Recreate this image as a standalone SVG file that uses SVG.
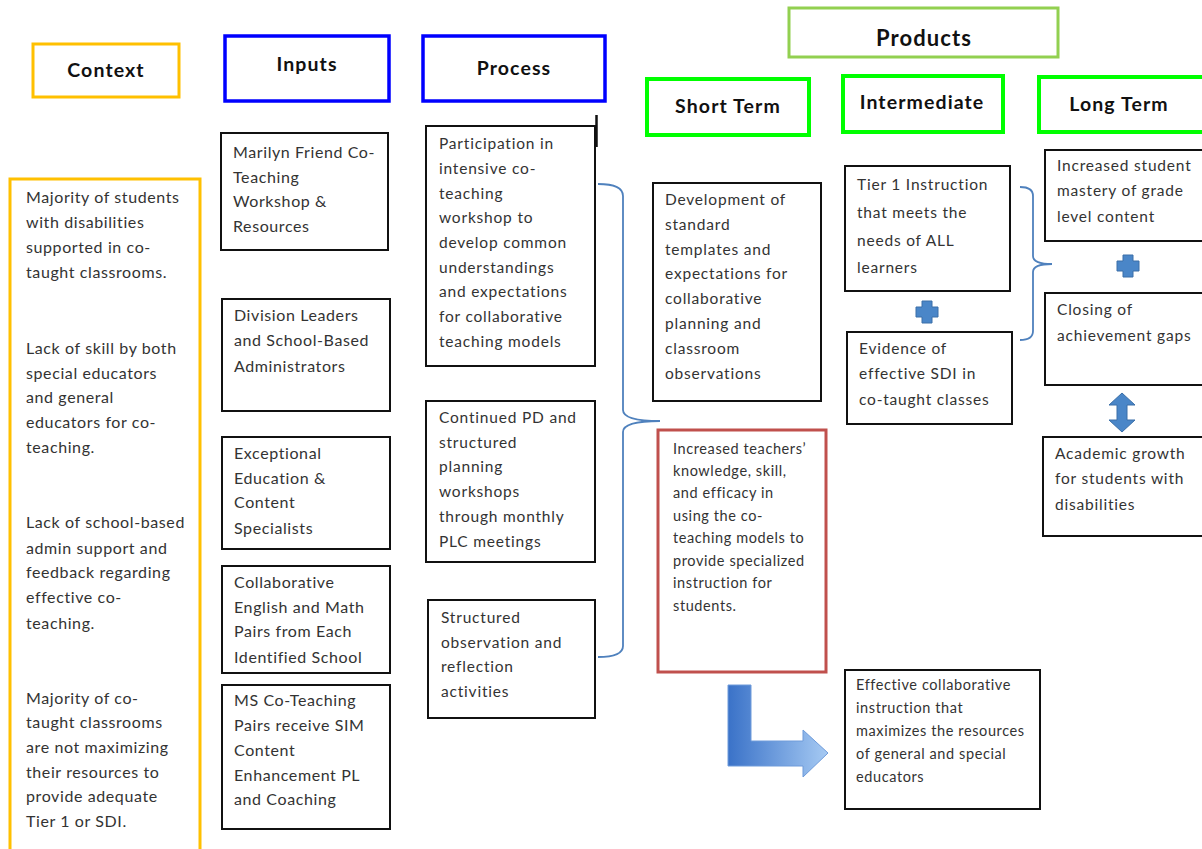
<svg xmlns="http://www.w3.org/2000/svg" width="1202" height="849" viewBox="0 0 1202 849">
<defs>
<style>
.hd{font-family:Lato,"Liberation Sans",sans-serif;font-weight:bold;font-size:19.5px;letter-spacing:1.1px;fill:#111;text-anchor:middle}
.tx{font-family:Lato,"Liberation Sans",sans-serif;font-size:16px;letter-spacing:0.6px;fill:#333}
.tp{font-family:Lato,"Liberation Sans",sans-serif;font-size:15.5px;letter-spacing:0.8px;fill:#333}
.ts{font-family:Lato,"Liberation Sans",sans-serif;font-size:14.5px;letter-spacing:0.6px;fill:#333}
.bx{fill:#fff;stroke:#111;stroke-width:2}
.org{fill:none;stroke:#FFC000;stroke-width:3}
.blu{fill:#fff;stroke:#0000FF;stroke-width:3.5}
.grn{fill:#fff;stroke:#00FF00;stroke-width:4}
.lgr{fill:#fff;stroke:#92D050;stroke-width:3}
.red{fill:#fff;stroke:#C0504D;stroke-width:3}
.brace{fill:none;stroke:#4F81BD;stroke-width:1.8}
.icon{fill:#4A86C8;stroke:#3A6FA8;stroke-width:1}
</style>
<linearGradient id="lg" x1="728" y1="0" x2="828" y2="0" gradientUnits="userSpaceOnUse">
<stop offset="0" stop-color="#3A72C8"/>
<stop offset="1" stop-color="#A6CAF3"/>
</linearGradient>
</defs>
<rect width="1202" height="849" fill="#fff"/>

<g id="context-header"><rect class="org" x="33" y="44" width="146" height="53"/><text class="hd" x="106" y="77">Context</text></g>
<g id="inputs-header"><rect class="blu" x="225" y="36" width="164" height="65"/><text class="hd" x="307" y="71">Inputs</text></g>
<g id="process-header"><rect class="blu" x="423" y="36" width="182" height="65"/><text class="hd" x="514" y="75">Process</text></g>
<g id="products-header"><rect class="lgr" x="789" y="8" width="269" height="49"/><text class="hd" x="924" y="46" style="font-size:22px">Products</text></g>
<g id="short-term-header"><rect class="grn" x="647" y="79" width="162" height="56"/><text class="hd" x="728" y="113">Short Term</text></g>
<g id="intermediate-header"><rect class="grn" x="843" y="76" width="160" height="56"/><text class="hd" x="922" y="109">Intermediate</text></g>
<g id="long-term-header"><rect class="grn" x="1039" y="77" width="170" height="55"/><text class="hd" x="1119" y="111">Long Term</text></g>

<g id="context-box"><rect class="org" x="10" y="179" width="190" height="680"/>
<text class="tx"><tspan x="26" y="203">Majority of students</tspan><tspan x="26" y="228">with disabilities</tspan><tspan x="26" y="253">supported in co-</tspan><tspan x="26" y="278">taught classrooms.</tspan>
<tspan x="26" y="354">Lack of skill by both</tspan><tspan x="26" y="379">special educators</tspan><tspan x="26" y="403">and general</tspan><tspan x="26" y="428">educators for co-</tspan><tspan x="26" y="453">teaching.</tspan>
<tspan x="26" y="528">Lack of school-based</tspan><tspan x="26" y="554">admin support and</tspan><tspan x="26" y="578">feedback regarding</tspan><tspan x="26" y="603">effective co-</tspan><tspan x="26" y="629">teaching.</tspan>
<tspan x="26" y="704">Majority of co-</tspan><tspan x="26" y="728">taught classrooms</tspan><tspan x="26" y="753">are not maximizing</tspan><tspan x="26" y="778">their resources to</tspan><tspan x="26" y="802">provide adequate</tspan><tspan x="26" y="827">Tier 1 or SDI.</tspan></text></g>

<g id="input-1"><rect class="bx" x="221" y="133" width="167" height="117"/><text class="tx"><tspan x="233" y="158">Marilyn Friend Co-</tspan><tspan x="233" y="183">Teaching</tspan><tspan x="233" y="207">Workshop &amp;</tspan><tspan x="233" y="232">Resources</tspan></text></g>
<g id="input-2"><rect class="bx" x="222" y="299" width="168" height="112"/><text class="tx"><tspan x="234" y="321">Division Leaders</tspan><tspan x="234" y="346">and School-Based</tspan><tspan x="234" y="372">Administrators</tspan></text></g>
<g id="input-3"><rect class="bx" x="222" y="437" width="168" height="112"/><text class="tx"><tspan x="234" y="459">Exceptional</tspan><tspan x="234" y="484">Education &amp;</tspan><tspan x="234" y="508">Content</tspan><tspan x="234" y="534">Specialists</tspan></text></g>
<g id="input-4"><rect class="bx" x="222" y="566" width="168" height="107"/><text class="tx"><tspan x="234" y="588">Collaborative</tspan><tspan x="234" y="613">English and Math</tspan><tspan x="234" y="637">Pairs from Each</tspan><tspan x="234" y="663">Identified School</tspan></text></g>
<g id="input-5"><rect class="bx" x="222" y="685" width="168" height="144"/><text class="tx"><tspan x="234" y="706">MS Co-Teaching</tspan><tspan x="234" y="731">Pairs receive SIM</tspan><tspan x="234" y="756">Content</tspan><tspan x="234" y="781">Enhancement PL</tspan><tspan x="234" y="805">and Coaching</tspan></text></g>

<g id="process-1"><rect class="bx" x="426" y="126" width="169" height="240"/><line x1="596.5" y1="115" x2="596.5" y2="147" stroke="#111" stroke-width="2.5"/>
<text class="tp"><tspan x="439" y="149">Participation in</tspan><tspan x="439" y="174">intensive co-</tspan><tspan x="439" y="199">teaching</tspan><tspan x="439" y="223">workshop to</tspan><tspan x="439" y="248">develop common</tspan><tspan x="439" y="273">understandings</tspan><tspan x="439" y="297">and expectations</tspan><tspan x="439" y="322">for collaborative</tspan><tspan x="439" y="347">teaching models</tspan></text></g>
<g id="process-2"><rect class="bx" x="426" y="401" width="169" height="161"/><text class="tp"><tspan x="439" y="423">Continued PD and</tspan><tspan x="439" y="448">structured</tspan><tspan x="439" y="472">planning</tspan><tspan x="439" y="497">workshops</tspan><tspan x="439" y="522">through monthly</tspan><tspan x="439" y="547">PLC meetings</tspan></text></g>
<g id="process-3"><rect class="bx" x="428" y="600" width="167" height="118"/><text class="tp"><tspan x="441" y="623">Structured</tspan><tspan x="441" y="648">observation and</tspan><tspan x="441" y="672">reflection</tspan><tspan x="441" y="697">activities</tspan></text></g>

<g id="short-1"><rect class="bx" x="653" y="183" width="168" height="218"/><text class="tp"><tspan x="665" y="205">Development of</tspan><tspan x="665" y="230">standard</tspan><tspan x="665" y="255">templates and</tspan><tspan x="665" y="279">expectations for</tspan><tspan x="665" y="304">collaborative</tspan><tspan x="665" y="329">planning and</tspan><tspan x="665" y="354">classroom</tspan><tspan x="665" y="379">observations</tspan></text></g>
<g id="short-2"><rect class="red" x="658" y="430" width="168" height="242"/><text class="ts"><tspan x="673" y="454">Increased teachers’</tspan><tspan x="673" y="476">knowledge, skill,</tspan><tspan x="673" y="498">and efficacy in</tspan><tspan x="673" y="521">using the co-</tspan><tspan x="673" y="543">teaching models to</tspan><tspan x="673" y="566">provide specialized</tspan><tspan x="673" y="588">instruction for</tspan><tspan x="673" y="611">students.</tspan></text></g>

<g id="int-1"><rect class="bx" x="845" y="166" width="165" height="125"/><text class="tp"><tspan x="857" y="190">Tier 1 Instruction</tspan><tspan x="857" y="218">that meets the</tspan><tspan x="857" y="246">needs of ALL</tspan><tspan x="857" y="273">learners</tspan></text></g>
<g id="int-plus"><path class="icon" d="M922,301 h10 v6 h6 v10 h-6 v6 h-10 v-6 h-6 v-10 h6 z"/></g>
<g id="int-2"><rect class="bx" x="847" y="332" width="165" height="92"/><text class="tp"><tspan x="859" y="354">Evidence of</tspan><tspan x="859" y="379">effective SDI in</tspan><tspan x="859" y="405">co-taught classes</tspan></text></g>
<g id="effective"><rect class="bx" x="845" y="670" width="195" height="139"/><text class="ts"><tspan x="856" y="690">Effective collaborative</tspan><tspan x="856" y="713">instruction that</tspan><tspan x="856" y="736">maximizes the resources</tspan><tspan x="856" y="759">of general and special</tspan><tspan x="856" y="782">educators</tspan></text></g>

<g id="long-1"><rect class="bx" x="1045" y="150" width="165" height="91"/><text class="tp"><tspan x="1057" y="171">Increased student</tspan><tspan x="1057" y="196">mastery of grade</tspan><tspan x="1057" y="222">level content</tspan></text></g>
<g id="long-plus"><path class="icon" d="M1123,255 h10 v6 h6 v10 h-6 v6 h-10 v-6 h-6 v-10 h6 z"/></g>
<g id="long-2"><rect class="bx" x="1045" y="293" width="165" height="92"/><text class="tp"><tspan x="1057" y="315">Closing of</tspan><tspan x="1057" y="341">achievement gaps</tspan></text></g>
<g id="long-arrow"><path class="icon" d="M1122,393 L1135,405 L1127,405 L1127,420 L1135,420 L1122,432 L1109,420 L1117,420 L1117,405 L1109,405 Z"/></g>
<g id="long-3"><rect class="bx" x="1043" y="437" width="167" height="99"/><text class="tp"><tspan x="1055" y="459">Academic growth</tspan><tspan x="1055" y="484">for students with</tspan><tspan x="1055" y="510">disabilities</tspan></text></g>

<g id="connectors">
<path class="brace" d="M598,184 Q623,184 623,196 L623,410 Q623,421 660,421 Q623,421 623,432 L623,646 Q623,657 598,657"/>
<path class="brace" d="M1020,187 Q1033,187 1033,196 L1033,256 Q1033,264 1052,264 Q1033,264 1033,272 L1033,331 Q1033,340 1020,340"/>
<path d="M728,685 H751 V741 H803 V730 L828,753 L803,777 V766 H728 Z" fill="url(#lg)" stroke="#6E9BDA" stroke-width="1"/>
</g>
</svg>
